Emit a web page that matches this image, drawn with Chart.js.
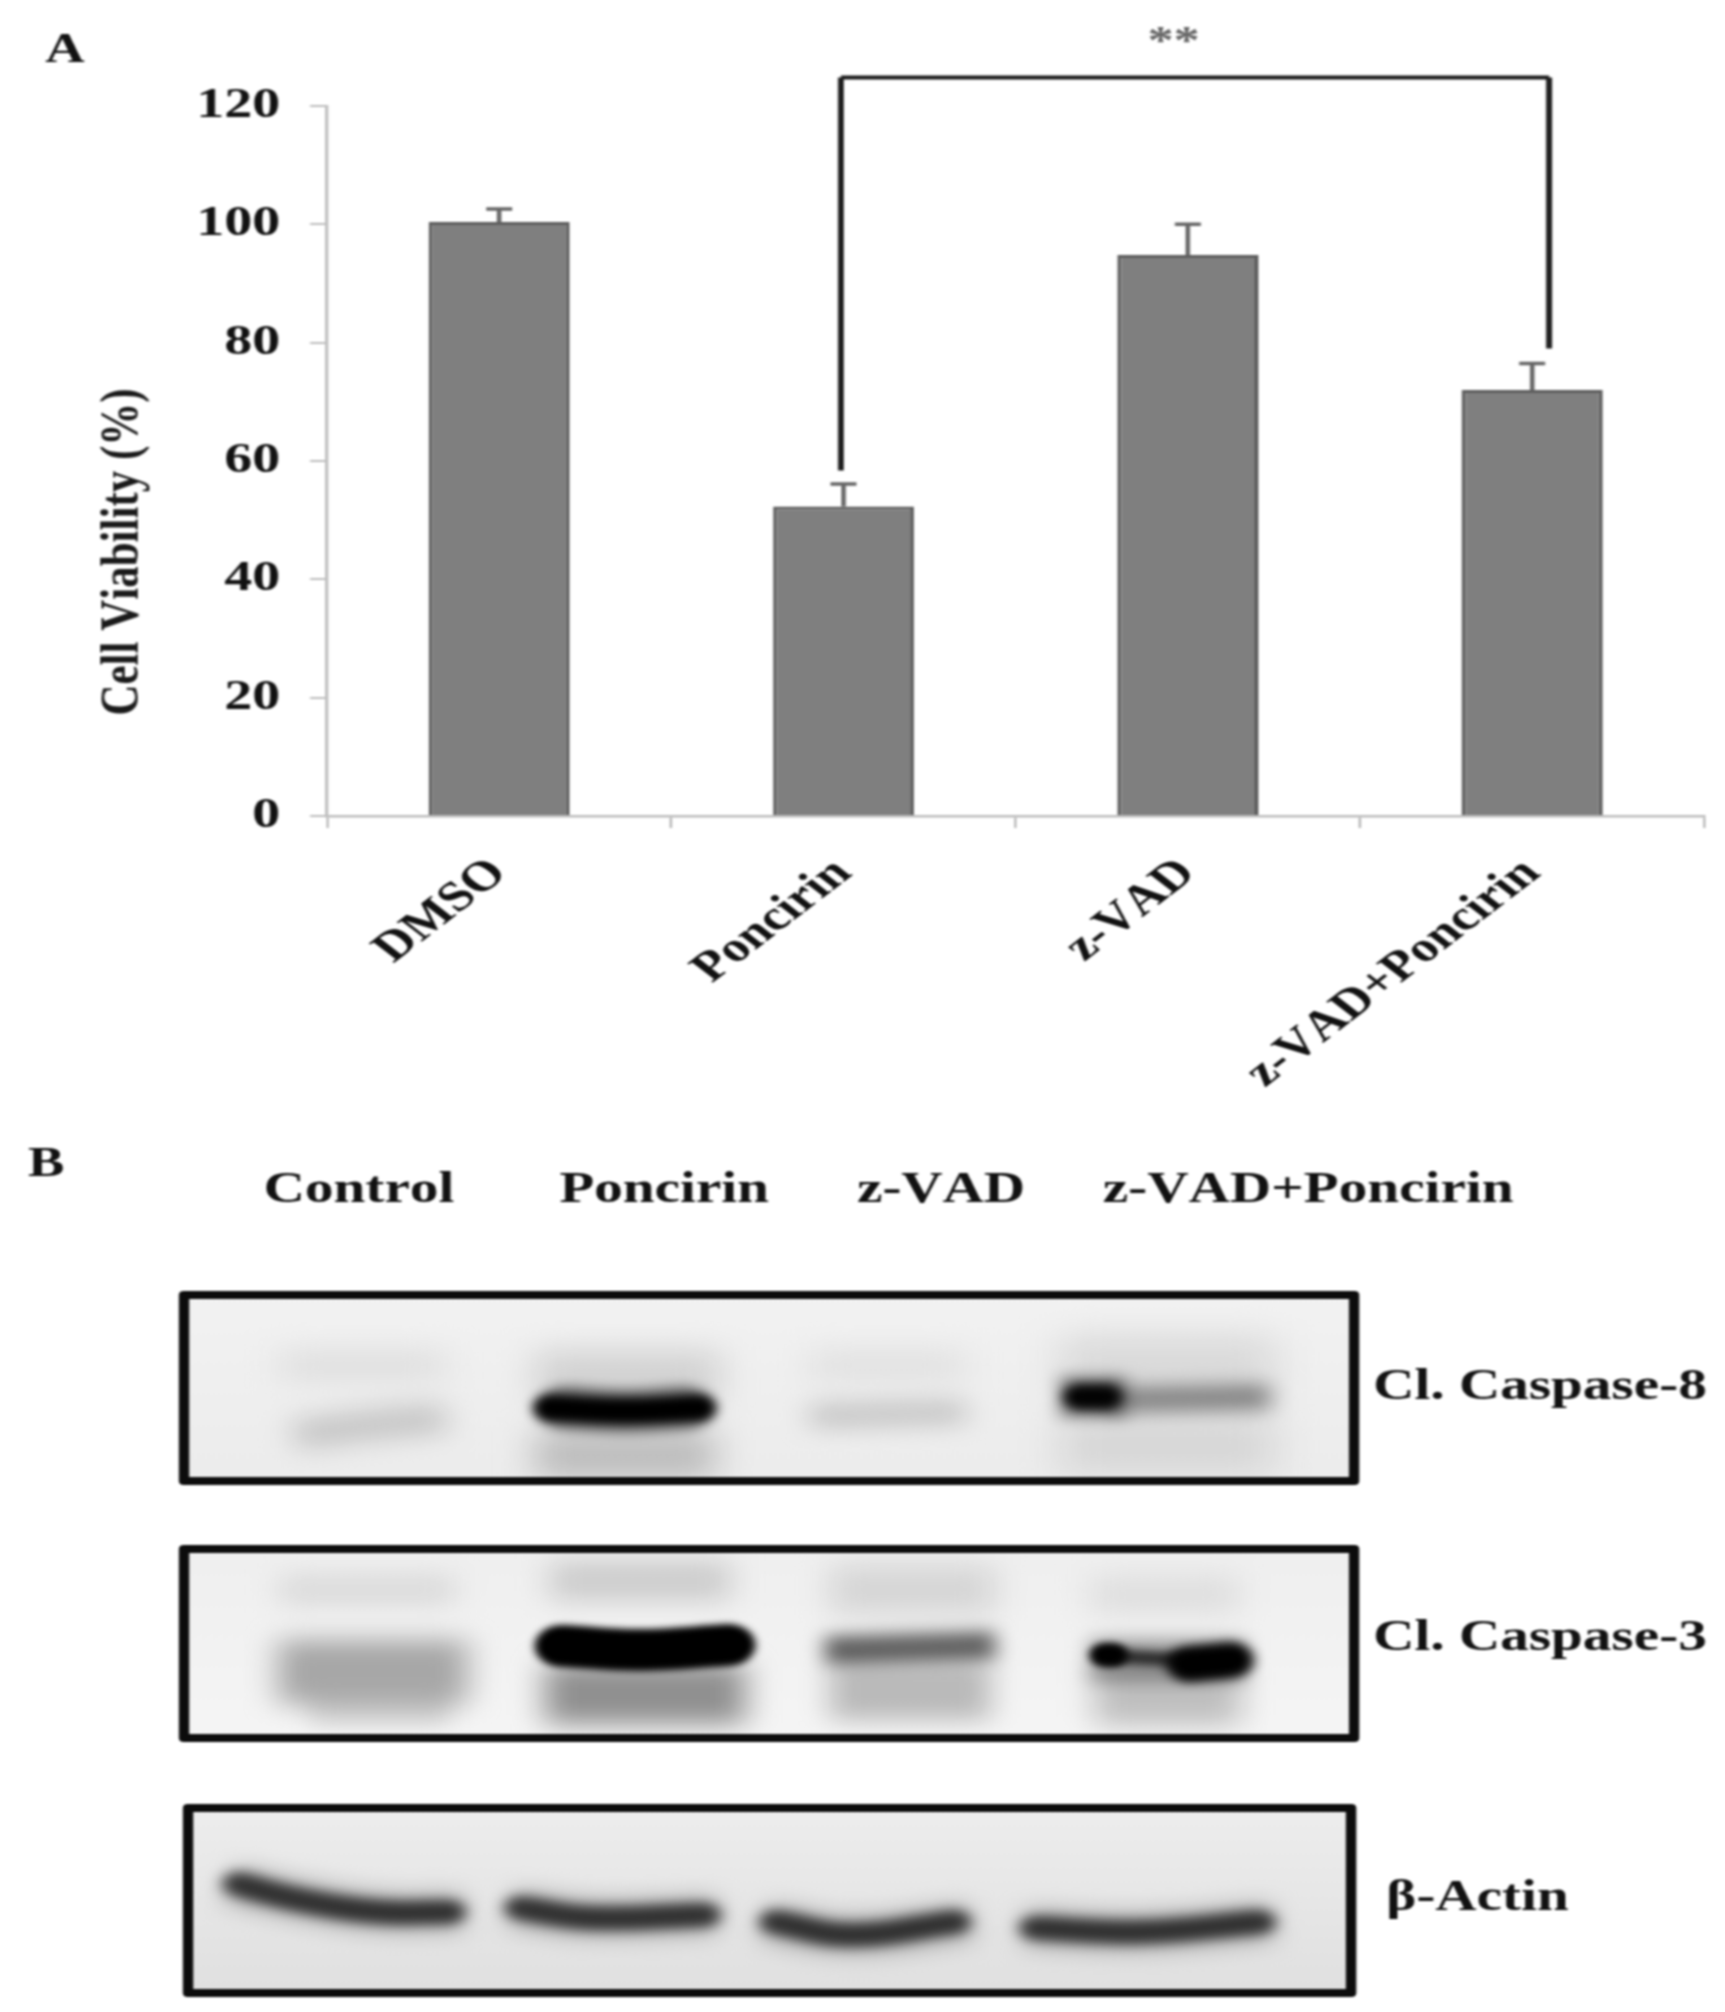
<!DOCTYPE html>
<html>
<head>
<meta charset="utf-8">
<script src="https://cdn.jsdelivr.net/npm/chart.js@4"></script>
<style>
  html, body { margin: 0; background: #fff; overflow: hidden; }
  #figure { position: relative; width: 1725px; height: 2012px; }
  canvas { position: absolute; left: 0; transform-origin: 0 0; transform: scale(1.3, 1); filter: blur(0.9px); }
  #viabilityChart { top: 0; }
  #blotChart { top: 1120px; }
</style>
</head>
<body>
<div id="figure">
  <canvas id="viabilityChart" width="1327" height="1120"></canvas>
  <canvas id="blotChart" width="1327" height="892"></canvas>
</div>
<script>
// panel A
const categories = ["DMSO", "Poncirin", "z-VAD", "z-VAD+Poncirin"];
const viability = [100.4, 52.3, 94.8, 72];
const viabilityError = [2.2, 3.8, 5.2, 4.5];
const valueTicks = [0, 20, 40, 60, 80, 100, 120];

// panel B, band traces (x, y in figure units, gray level, band height, softness)
const laneLabels = ["Control", "Poncirin", "z-VAD", "z-VAD+Poncirin"];
const proteinLabels = ["Cl. Caspase-8", "Cl. Caspase-3", "β-Actin"];

const caspase8X = [[280, 445], [295, 370, 445], [535, 720], [565, 625, 685], [551, 625, 698], [535, 715], [810, 965], [810, 965], [1060, 1275], [1060, 1275], [1110, 1270], [1060, 1125], [1080, 1105]];
const caspase8Y = [[1365, 1365], [1435, 1425, 1418], [1375, 1375], [1408, 1411, 1408], [1408, 1411, 1408], [1455, 1455], [1416, 1412], [1365, 1365], [1365, 1365], [1445, 1445], [1400, 1397], [1397, 1397], [1397, 1397]];
const caspase8Gray = [238, 212, 225, 120, 0, 205, 212, 240, 232, 232, 150, 140, 5];
const caspase8Size = [30, 30, 50, 44, 26, 50, 24, 30, 60, 60, 26, 42, 26];
const caspase8Soft = [14, 12, 14, 6, 4, 14, 11, 14, 16, 16, 9, 7, 5];

const caspase3X = [[280, 455], [278, 467], [310, 450], [550, 730], [545, 745], [562, 640, 728], [830, 995], [825, 995], [830, 990], [1090, 1240], [1095, 1240], [1090, 1245], [1110, 1220], [1105, 1112], [1190, 1230]];
const caspase3Y = [[1590, 1590], [1672, 1672], [1712, 1712], [1581, 1581], [1694, 1694], [1646, 1650, 1645], [1590, 1590], [1650, 1645], [1690, 1690], [1595, 1595], [1695, 1695], [1660, 1660], [1656, 1662], [1655, 1655], [1664, 1660]];
const caspase3Gray = [232, 175, 222, 218, 150, 0, 228, 105, 195, 238, 200, 170, 70, 0, 0];
const caspase3Size = [30, 64, 26, 40, 60, 42, 50, 28, 60, 40, 60, 44, 14, 24, 36];
const caspase3Soft = [12, 12, 10, 12, 12, 3, 13, 8, 11, 13, 12, 8, 4, 3, 5];

const actinX = [[230, 300, 380, 462], [238, 300, 380, 450], [512, 590, 716], [520, 590, 705], [765, 850, 970], [775, 850, 955], [1025, 1140, 1272], [1035, 1140, 1260]];
const actinY = [[1884, 1900, 1912, 1912], [1884, 1900, 1912, 1912], [1908, 1918, 1915], [1908, 1918, 1915], [1922, 1935, 1922], [1922, 1935, 1922], [1928, 1932, 1922], [1928, 1932, 1922]];
const actinGray = [195, 70, 195, 70, 195, 70, 195, 70];
const actinSize = [40, 24, 40, 24, 40, 24, 40, 24];
const actinSoft = [10, 6, 10, 6, 10, 6, 10, 6];

const SERIF = '"Liberation Serif", serif';

const errorBars = {
  id: "errorBars",
  afterDatasetsDraw(chart) {
    const ctx = chart.ctx;
    const x = chart.scales.x;
    const y = chart.scales.y;
    ctx.save();
    ctx.strokeStyle = "#666";
    ctx.lineWidth = 3.5;
    viability.forEach((v, i) => {
      const cx = x.getPixelForValue(i);
      const top = y.getPixelForValue(v + viabilityError[i]);
      ctx.beginPath();
      ctx.moveTo(cx, y.getPixelForValue(v));
      ctx.lineTo(cx, top);
      ctx.moveTo(cx - 10, top);
      ctx.lineTo(cx + 10, top);
      ctx.stroke();
    });
    ctx.restore();
  },
};

const annotations = {
  id: "annotations",
  beforeDraw(chart) {
    chart.ctx.fontKerning = "none";
  },
  afterDraw(chart) {
    const ctx = chart.ctx;
    const x = chart.scales.x;
    const y = chart.scales.y;
    const left = x.getPixelForValue(1) - 2;
    const right = x.getPixelForValue(3) + 13;
    const top = y.getPixelForValue(124.8);
    ctx.save();
    ctx.strokeStyle = "#1c1c1c";
    ctx.lineWidth = 4;
    ctx.beginPath();
    ctx.moveTo(left, top);
    ctx.lineTo(right, top);
    ctx.stroke();
    ctx.lineWidth = 4.5;
    ctx.beginPath();
    ctx.moveTo(left, y.getPixelForValue(58.4));
    ctx.lineTo(left, top);
    ctx.moveTo(right, top);
    ctx.lineTo(right, y.getPixelForValue(79));
    ctx.stroke();

    ctx.fillStyle = "#666";
    ctx.font = `bold 40px ${SERIF}`;
    ctx.textAlign = "center";
    ctx.textBaseline = "middle";
    ctx.fillText("**", x.getPixelForValue(2) - 11, 43);

    ctx.fillStyle = "#111";
    ctx.font = `bold 42px ${SERIF}`;
    ctx.fillText("A", 50, 51);

    ctx.translate(95, 552);
    ctx.rotate(-Math.PI / 2);
    ctx.fillStyle = "#1a1a1a";
    ctx.font = `bold 43px ${SERIF}`;
    ctx.fillText("Cell Viability (%)", 0, 0);
    ctx.restore();
  },
};

new Chart("viabilityChart", {
  type: "bar",
  data: {
    labels: categories,
    datasets: [
      {
        data: viability,
        backgroundColor: "#7f7f7f",
        borderColor: "#5e5e5e",
        borderWidth: 3,
        barPercentage: 0.41,
        categoryPercentage: 1,
      },
    ],
  },
  options: {
    responsive: false,
    animation: false,
    layout: { padding: { top: 106, right: 16, left: 0, bottom: 0 } },
    plugins: { legend: { display: false }, tooltip: { enabled: false } },
    scales: {
      x: {
        grid: { drawOnChartArea: false, color: "#bdbdbd", lineWidth: 2, tickLength: 12 },
        border: { color: "#bdbdbd", width: 2.5 },
        ticks: {
          color: "#111",
          font: { family: "Liberation Serif", size: 42, weight: "bold" },
          minRotation: 45,
          maxRotation: 45,
          padding: 21,
        },
        afterFit(scale) {
          scale.height = 304;
        },
      },
      y: {
        min: 0,
        max: 120,
        afterBuildTicks(scale) {
          scale.ticks = valueTicks.map((value) => ({ value }));
        },
        grid: { drawOnChartArea: false, color: "#bdbdbd", lineWidth: 2, tickLength: 13 },
        border: { color: "#bdbdbd", width: 2.5 },
        ticks: {
          color: "#111",
          font: { family: "Liberation Serif", size: 43, weight: "bold" },
          padding: 23,
        },
        afterFit(scale) {
          scale.width = 251.5;
        },
      },
    },
  },
  plugins: [errorBars, annotations],
});

// one line dataset per band, softened when it is drawn
const panels = [
  { x0: 185, x1: 1353, y0: 1296, y1: 1480, top: "#f2f2f2", bottom: "#ececec" },
  { x0: 185, x1: 1353, y0: 1550, y1: 1737, top: "#efefef", bottom: "#f5f5f5" },
  { x0: 189, x1: 1350, y0: 1809, y1: 1992, top: "#ededed", bottom: "#e0e0e0" },
];

const toBands = (panel, xs, ys, grays, sizes, softs) =>
  xs.map((points, i) => ({
    data: points.map((x, j) => ({ x, y: ys[i][j] })),
    borderColor: `rgb(${grays[i]},${grays[i]},${grays[i]})`,
    borderWidth: sizes[i],
    borderCapStyle: softs[i] >= 7 ? "butt" : "round",
    borderJoinStyle: "round",
    tension: 0.4,
    pointRadius: 0,
    soft: softs[i],
    panel,
  }));

const blotDatasets = [
  ...toBands(0, caspase8X, caspase8Y, caspase8Gray, caspase8Size, caspase8Soft),
  ...toBands(1, caspase3X, caspase3Y, caspase3Gray, caspase3Size, caspase3Soft),
  ...toBands(2, actinX, actinY, actinGray, actinSize, actinSoft),
];

const blotPanels = {
  id: "blotPanels",
  beforeDatasetsDraw(chart) {
    const ctx = chart.ctx;
    const { x, y } = chart.scales;
    panels.forEach((p) => {
      const top = y.getPixelForValue(p.y0);
      const bottom = y.getPixelForValue(p.y1);
      const fill = ctx.createLinearGradient(0, top, 0, bottom);
      fill.addColorStop(0, p.top);
      fill.addColorStop(1, p.bottom);
      ctx.fillStyle = fill;
      ctx.fillRect(x.getPixelForValue(p.x0), top, x.getPixelForValue(p.x1) - x.getPixelForValue(p.x0), bottom - top);
    });
  },
  beforeDatasetDraw(chart, args) {
    const ctx = chart.ctx;
    const { x, y } = chart.scales;
    const ds = chart.data.datasets[args.index];
    const p = panels[ds.panel];
    ctx.save();
    ctx.beginPath();
    ctx.rect(x.getPixelForValue(p.x0), y.getPixelForValue(p.y0), x.getPixelForValue(p.x1) - x.getPixelForValue(p.x0), y.getPixelForValue(p.y1) - y.getPixelForValue(p.y0));
    ctx.clip();
    ctx.globalCompositeOperation = "multiply";
    ctx.filter = `blur(${ds.soft}px)`;
  },
  afterDatasetDraw(chart) {
    chart.ctx.restore();
  },
  afterDatasetsDraw(chart) {
    const ctx = chart.ctx;
    const { x, y } = chart.scales;
    ctx.save();
    ctx.strokeStyle = "#0c0c0c";
    ctx.lineWidth = 8;
    ctx.lineJoin = "round";
    panels.forEach((p) => {
      const left = x.getPixelForValue(p.x0 - 1);
      const top = y.getPixelForValue(p.y0 - 1);
      ctx.strokeRect(left, top, x.getPixelForValue(p.x1 + 1) - left, y.getPixelForValue(p.y1 + 1) - top);
    });

    ctx.fontKerning = "none";
    ctx.fillStyle = "#111";
    ctx.font = `bold 44px ${SERIF}`;
    ctx.textBaseline = "middle";
    ctx.textAlign = "center";
    [359, 664, 941, 1308].forEach((cx, i) => {
      ctx.fillText(laneLabels[i], x.getPixelForValue(cx), y.getPixelForValue(1191));
    });
    ctx.textAlign = "left";
    [[1373, 1388], [1373, 1639], [1386, 1899]].forEach((pos, i) => {
      ctx.fillText(proteinLabels[i], x.getPixelForValue(pos[0]), y.getPixelForValue(pos[1]));
    });
    ctx.font = `bold 42px ${SERIF}`;
    ctx.fillText("B", x.getPixelForValue(28), y.getPixelForValue(1165));
    ctx.restore();
  },
};

new Chart("blotChart", {
  type: "line",
  data: { datasets: blotDatasets },
  options: {
    responsive: false,
    animation: false,
    layout: { padding: 0 },
    plugins: { legend: { display: false }, tooltip: { enabled: false } },
    scales: {
      x: { type: "linear", min: 0, max: 1725, display: false },
      y: { type: "linear", min: 1120, max: 2012, reverse: true, display: false },
    },
  },
  plugins: [blotPanels],
});
</script>
</body>
</html>
